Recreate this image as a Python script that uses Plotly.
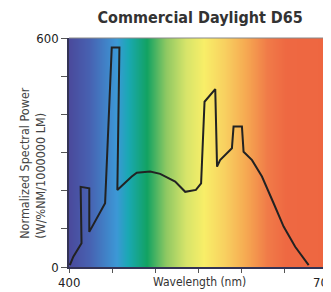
import plotly.graph_objects as go

# Spectral power distribution
wavelength = [401, 405, 414.5, 413.5, 423.5, 423.5, 441.8, 449.5, 458.4, 456, 472.7, 478.5, 494, 505.6,
              523, 534.6, 547, 553, 557, 569.4, 571.5, 575, 588.7, 590.6, 600.3, 602.2, 612, 623.5,
              637, 648.6, 662, 677.6]
power = [5, 27, 62, 210, 206, 92, 167, 575, 575, 202, 237, 247, 250, 244,
         224, 197, 202, 219, 433, 466, 263, 280, 311, 368, 368, 302, 280, 237,
         167, 106, 53, 5]

# Background spectrum colour stops (wavelength nm, colour)
stop_nm = [400, 424, 455, 468, 490, 512, 535, 556, 580, 604, 630, 652, 700]
stop_col = ["#4a4a9c", "#4762b2", "#3c98d6", "#1aa8b4", "#12a262", "#8ec862", "#d6e46a",
            "#f8ee68", "#f8d060", "#f6aa52", "#f07a48", "#ee6842", "#ee6640"]

x_ticks = [400, 450, 500, 550, 600, 650, 700]
x_labels = {400: "400", 700: "700"}
y_ticks = [0, 100, 200, 300, 400, 500, 600]
y_ticktext = ["0", "", "", "", "", "", "600"]

FONT = "DejaVu Sans Condensed, Liberation Sans Narrow, Arial Narrow, sans-serif"

colorscale = [[(n - 400) / 300, c] for n, c in zip(stop_nm, stop_col)]

fig = go.Figure()
fig.add_trace(go.Heatmap(
    x=[400, 700], y=[0, 600], z=[[400, 700], [400, 700]],
    zmin=400, zmax=700, colorscale=colorscale, zsmooth="best",
    showscale=False, hoverinfo="skip"))
fig.add_trace(go.Scatter(x=wavelength, y=power, mode="lines",
                         line=dict(color="#222222", width=2), hoverinfo="skip"))

fig.update_layout(
    width=323, height=284,
    margin=dict(l=61, r=3, t=30, b=25),
    paper_bgcolor="white", plot_bgcolor="white",
    showlegend=False,
    title=dict(text="<b>Commercial Daylight D65</b>", x=0.595, xanchor="center", y=0.966, yanchor="middle",
               font=dict(family=FONT, size=16, color="#333333")),
    font=dict(family=FONT, color="#333333"),
)
fig.update_xaxes(range=[400, 700], tickvals=x_ticks, ticktext=[""] * len(x_ticks), ticks="outside",
                 ticklen=4, tickcolor="#555555", showline=True, linecolor="#333355", linewidth=1.5,
                 showgrid=False, zeroline=False, automargin=False)
fig.update_yaxes(range=[0, 600], tickvals=y_ticks, ticktext=y_ticktext, ticks="outside",
                 ticklen=6, tickcolor="#555555", showline=True, linecolor="#333355", linewidth=1.5,
                 showgrid=False, zeroline=False, automargin=False,
                 tickfont=dict(family=FONT, size=13, color="#222222"))
fig.add_shape(type="line", xref="paper", yref="paper", x0=0, x1=1, y0=1, y1=1,
              line=dict(color="#888888", width=1))
for xv, lab in x_labels.items():
    fig.add_annotation(text=lab, x=xv, xref="x", y=0, yref="paper", yshift=-15,
                       xshift=(-4 if xv == 700 else 0), showarrow=False, yanchor="middle",
                       font=dict(family=FONT, size=13, color="#222222"))
fig.add_annotation(text="Wavelength (nm)", x=551, xref="x", y=0, yref="paper", yshift=-15,
                   showarrow=False, yanchor="middle",
                   font=dict(family=FONT, size=12, color="#333333"))
fig.add_annotation(text="Normalized Spectral Power<br>(W/%NM/1000000 LM)", x=0, xref="paper", xshift=-36,
                   xanchor="center", y=0.455, yref="paper", textangle=-90, showarrow=False, align="left",
                   font=dict(family=FONT, size=12.5, color="#444444"))

fig.write_html("out.html")
